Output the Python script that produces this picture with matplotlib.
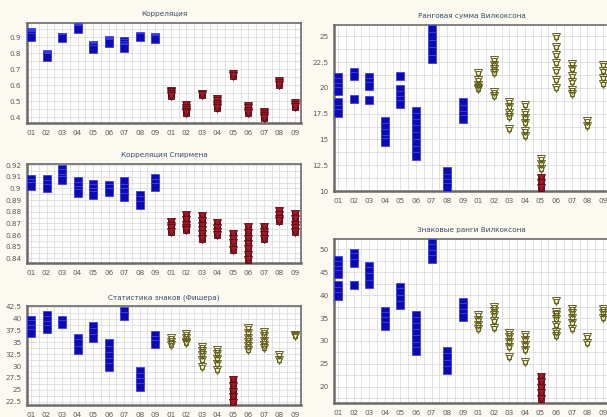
import matplotlib
matplotlib.use("Agg")
import matplotlib.pyplot as plt
import numpy as np
from matplotlib.ticker import MultipleLocator

# Category labels: nine cases for the first method, nine for the second
cats = ["01", "02", "03", "04", "05", "06", "07", "08", "09"]
tick_labels = cats + cats

# --- Корреляция ---
corr_blue = [
    [0.935, 0.928, 0.92, 0.912, 0.905],
    [0.795, 0.789, 0.782, 0.776],
    [0.905, 0.9, 0.895],
    [0.966, 0.96, 0.955],
    [0.855, 0.846, 0.838, 0.828],
    [0.885, 0.877, 0.87, 0.865],
    [0.875, 0.864, 0.852, 0.84, 0.835],
    [0.908, 0.903],
    [0.905, 0.897, 0.892],
]
corr_red = [
    [0.565, 0.555, 0.545, 0.535],
    [0.475, 0.46, 0.447, 0.435, 0.425],
    [0.548, 0.54],
    [0.515, 0.5, 0.485, 0.47, 0.455],
    [0.672, 0.66],
    [0.468, 0.455, 0.44, 0.425],
    [0.435, 0.422, 0.41, 0.398],
    [0.625, 0.612, 0.605],
    [0.487, 0.475, 0.465],
]

# --- Корреляция Спирмена ---
spear_blue = [
    [0.908, 0.905, 0.902],
    [0.908, 0.904, 0.9],
    [0.917, 0.913, 0.909, 0.907],
    [0.906, 0.902, 0.899, 0.896],
    [0.904, 0.9, 0.897, 0.894],
    [0.903, 0.9, 0.897],
    [0.906, 0.9, 0.897, 0.893],
    [0.894, 0.89, 0.886],
    [0.909, 0.905, 0.901],
]
spear_red = [
    [0.871, 0.868, 0.866, 0.863],
    [0.877, 0.873, 0.869, 0.866, 0.864],
    [0.876, 0.872, 0.868, 0.864, 0.861, 0.857],
    [0.87, 0.866, 0.863, 0.86],
    [0.861, 0.857, 0.853, 0.847],
    [0.867, 0.862, 0.857, 0.852, 0.848, 0.843, 0.839],
    [0.867, 0.863, 0.86, 0.857],
    [0.881, 0.877, 0.874, 0.872],
    [0.878, 0.874, 0.869, 0.866, 0.863],
]

# --- Статистика знаков ---
sign_blue = [
    [39.8, 38.8, 37.8, 37.0],
    [40.7, 39.8, 38.7, 37.9],
    [39.8, 38.8],
    [35.9, 34.8, 33.4],
    [38.4, 37.2, 36.0],
    [34.8, 33.5, 32.2, 30.9, 29.8],
    [41.6, 40.5],
    [29.0, 27.8, 26.6, 25.5],
    [36.6, 35.5, 34.6],
]
sign_olive = [
    [35.9, 35.2, 34.5],
    [36.7, 35.9, 35.0, 34.8],
    [34.1, 33.3, 32.4, 31.3, 29.8],
    [33.4, 32.5, 31.6, 30.5, 29.1],
    [],
    [38.0, 37.0, 36.0, 35.0, 34.2, 33.4],
    [37.3, 36.3, 35.3, 34.5, 33.8],
    [32.3, 31.3],
    [36.6, 36.3],
]
sign_red = [[], [], [], [], [27.0, 25.8, 24.6, 23.4, 22.3], [], [], [], []]

# --- Ранговая сумма Вилкоксона ---
ranksum_blue = [
    [21.1, 20.6, 20.1, 19.7, 18.6, 18.0, 17.6],
    [21.5, 21.2, 18.95],
    [21.1, 20.6, 20.2, 18.85],
    [16.8, 16.2, 15.6, 15.0, 14.8],
    [21.15, 19.9, 19.3, 18.8, 18.4],
    [17.8, 17.2, 16.6, 16.0, 15.3, 14.7, 14.0, 13.4],
    [25.7, 25.0, 24.3, 23.6, 22.8],
    [11.9, 11.3, 10.8, 10.4],
    [18.6, 18.0, 17.4, 17.0],
]
ranksum_olive = [
    [21.4, 20.8, 20.3, 20.0, 19.9],
    [22.7, 22.2, 21.8, 21.4, 19.6, 19.2],
    [18.6, 18.1, 17.6, 17.2, 16.0],
    [18.3, 17.6, 17.1, 16.6, 15.8, 15.3],
    [13.1, 12.6, 12.1],
    [24.9, 24.0, 23.2, 22.4, 21.6, 20.8, 20.0],
    [22.3, 21.8, 21.2, 20.6, 19.8, 19.4],
    [16.8, 16.3],
    [22.2, 21.6, 21.0, 20.4],
]
ranksum_red = [[], [], [], [], [11.3, 10.8, 10.3], [], [], [], []]

# --- Знаковые ранги Вилкоксона ---
signrank_blue = [
    [47.6, 46.6, 45.5, 44.6, 42.2, 40.8, 39.7],
    [49.2, 48.2, 47.0, 42.1],
    [46.3, 45.2, 44.0, 42.5],
    [36.5, 35.4, 34.3, 33.3],
    [41.8, 40.6, 39.2, 37.9],
    [35.6, 34.3, 33.0, 31.7, 30.4, 29.0, 27.9],
    [51.4, 50.2, 49.0, 47.9],
    [27.9, 26.5, 25.0, 23.7],
    [38.5, 37.3, 36.2, 35.2],
]
signrank_olive = [
    [35.6, 34.6, 33.5, 32.5],
    [37.4, 36.6, 35.6, 34.4, 32.8],
    [31.7, 30.8, 29.7, 28.6, 26.6],
    [31.2, 30.2, 29.2, 28.0, 25.5],
    [],
    [38.7, 36.4, 35.6, 34.8, 33.4, 32.0, 31.0],
    [37.0, 36.0, 35.0, 34.0, 32.5],
    [30.9, 29.5],
    [37.0, 36.0, 35.0],
]
signrank_red = [[], [], [], [], [22.1, 21.0, 19.8, 18.6, 17.3], [], [], [], []]

BG = "#fcfaf0"
BLUE_FACE, BLUE_EDGE = "#0b0bb0", "#4040f0"
RED_FACE, RED_EDGE = "#a01828", "#5a0a12"
OLIVE_FACE, OLIVE_EDGE = "#f3efc8", "#66621e"

W, H = 607, 417
fig = plt.figure(figsize=(W / 100, H / 100), dpi=100, facecolor=BG)


def add_axes(left, right, top, bottom):
    return fig.add_axes([left / W, 1 - bottom / H, (right - left) / W, (bottom - top) / H])


def draw_group(ax, groups, offset, kind):
    for i, vals in enumerate(groups):
        if not vals:
            continue
        x = np.full(len(vals), i + 1 + offset)
        if kind == "blue":
            ax.plot(x, vals, ls="none", marker="s", ms=6.0, mfc=BLUE_FACE,
                    mec=BLUE_EDGE, mew=0.6, zorder=3)
        elif kind == "red":
            ax.plot(x, vals, ls="none", marker="s", ms=4.4, mfc=RED_FACE,
                    mec=RED_EDGE, mew=0.6, zorder=3)
            ax.plot(x, vals, ls="none", marker="v", ms=5.4, mfc=RED_FACE,
                    mec=RED_EDGE, mew=0.6, zorder=4)
        else:
            ax.plot(x, vals, ls="none", marker="s", ms=3.4, mfc=OLIVE_FACE,
                    mec=OLIVE_EDGE, mew=0.7, zorder=3)
            ax.plot(x, vals, ls="none", marker="v", ms=5.6, mfc="none",
                    mec=OLIVE_EDGE, mew=0.7, zorder=4)


def style_axes(ax, title, ylim, major, minor, fmt):
    ax.set_facecolor("white")
    ax.set_xlim(0.74, 18.39)
    ax.set_ylim(*ylim)
    ax.set_xticks(np.arange(1, 19))
    ax.set_xticklabels(tick_labels)
    ax.xaxis.set_minor_locator(MultipleLocator(0.5))
    ax.yaxis.set_major_locator(MultipleLocator(major))
    ax.yaxis.set_minor_locator(MultipleLocator(minor))
    ax.yaxis.set_major_formatter(matplotlib.ticker.FuncFormatter(fmt))
    ax.grid(True, which="both", color="#dadada", lw=0.55, zorder=0)
    ax.set_axisbelow(True)
    ax.tick_params(which="both", length=0, labelsize=5.2, colors="#5a5a5a")
    ax.tick_params(axis="x", pad=5)
    ax.tick_params(axis="y", pad=4)
    for sp in ax.spines.values():
        sp.set_color("#6a6a6a")
        sp.set_linewidth(1.2)
    ax.spines["left"].set_linewidth(1.8)
    ax.spines["bottom"].set_linewidth(1.8)
    ax.set_title(title, fontsize=5.2, color="#3a4a6a", pad=5)


def f_plain(v, _):
    s = f"{v:.2f}".rstrip("0").rstrip(".")
    return s


def f_half(v, _):
    s = f"{v:.1f}"
    return s[:-2] if s.endswith(".0") else s


# Корреляция
ax1 = add_axes(27, 301, 23, 123)
style_axes(ax1, "Корреляция", (0.364, 0.99), 0.1, 0.05, f_plain)
draw_group(ax1, corr_blue, 0, "blue")
draw_group(ax1, corr_red, 9, "red")

# Корреляция Спирмена
ax2 = add_axes(27, 301, 164, 263)
style_axes(ax2, "Корреляция Спирмена", (0.836, 0.921), 0.01, 0.005, f_plain)
draw_group(ax2, spear_blue, 0, "blue")
draw_group(ax2, spear_red, 9, "red")

# Статистика знаков
ax3 = add_axes(27, 301, 306, 405)
style_axes(ax3, "Статистика знаков (Фишера)", (21.8, 42.7), 2.5, 1.25, f_half)
draw_group(ax3, sign_blue, 0, "blue")
draw_group(ax3, sign_olive, 9, "olive")
draw_group(ax3, sign_red, 9, "red")

# Ранговая сумма Вилкоксона
ax4 = add_axes(334, 609, 25, 191)
style_axes(ax4, "Ранговая сумма Вилкоксона", (10.0, 26.1), 2.5, 1.25, f_half)
draw_group(ax4, ranksum_blue, 0, "blue")
draw_group(ax4, ranksum_olive, 9, "olive")
draw_group(ax4, ranksum_red, 9, "red")

# Знаковые ранги Вилкоксона
ax5 = add_axes(334, 609, 239, 403)
style_axes(ax5, "Знаковые ранги Вилкоксона", (16.5, 52.2), 5, 2.5, f_half)
draw_group(ax5, signrank_blue, 0, "blue")
draw_group(ax5, signrank_olive, 9, "olive")
draw_group(ax5, signrank_red, 9, "red")

fig.savefig("out.png", dpi=100, facecolor=BG)
